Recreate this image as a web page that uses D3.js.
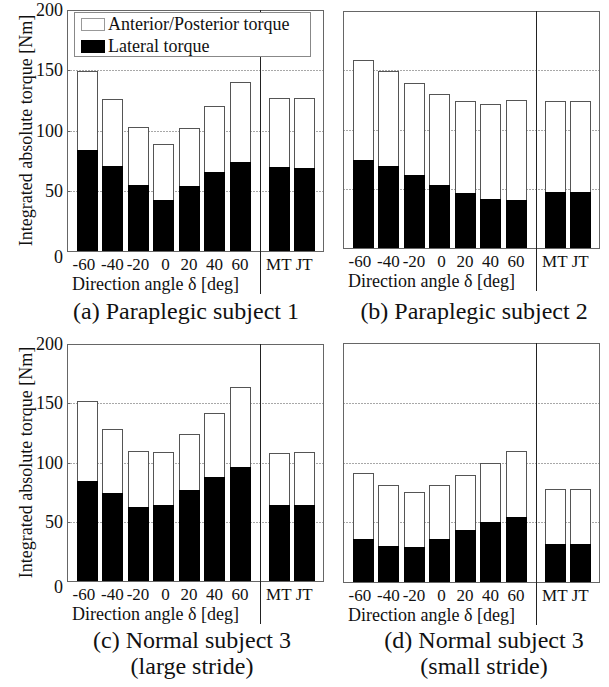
<!DOCTYPE html>
<html>
<head>
<meta charset="utf-8">
<script src="https://cdn.jsdelivr.net/npm/d3@7"></script>
<style>
  html, body { margin: 0; padding: 0; background: #fff; }
  svg { display: block; }
  text { fill: #111; }
</style>
</head>
<body>
<svg id="chart" width="609" height="687" font-family="'Liberation Serif', 'Times New Roman', Times, serif"></svg>
<script>
// ---- data ----
const angles = ["-60", "-40", "-20", "0", "20", "40", "60"];
const methods = ["MT", "JT"];
const yTicks = [0, 50, 100, 150, 200];
const seriesNames = ["Anterior/Posterior torque", "Lateral torque"];

const totalA   = [149, 126, 103, 88.5, 102, 120.5, 140, 127, 127];
const lateralA = [83.5, 70.5, 54.8, 42, 53.7, 65.2, 74, 69.5, 68.5];
const totalB   = [159, 149.4, 139, 130.3, 124.4, 121.6, 124.7, 124.4, 124.4];
const lateralB = [74.4, 69, 62, 53.3, 46, 41, 40.2, 47, 47];
const totalC   = [151.7, 128, 110, 109, 123.7, 141.5, 163.3, 108.2, 108.8];
const lateralC = [84.2, 74, 62.4, 63.8, 76.8, 88, 96.6, 63.8, 63.8];
const totalD   = [91.3, 81, 75.4, 81.2, 89.3, 99.7, 109.8, 77.6, 77.6];
const lateralD = [36.1, 30.5, 29.4, 36.4, 43.4, 49.8, 54.4, 32, 31.7];

const captionA = ["(a) Paraplegic subject 1"];
const captionB = ["(b) Paraplegic subject 2"];
const captionC = ["(c) Normal subject 3", "(large stride)"];
const captionD = ["(d) Normal subject 3", "(small stride)"];

const yLabel = "Integrated absolute torque [Nm]";
const xLabel = "Direction angle \u03B4 [deg]";

// ---- layout ----
const panels = [
  { total: totalA, lateral: lateralA, caption: captionA, left: 67,  right: 323, top: 10,  bottom: 251, yAxis: true,  legend: true,  capX: 186, capY: 319 },
  { total: totalB, lateral: lateralB, caption: captionB, left: 343, right: 599, top: 11,  bottom: 248, yAxis: false, legend: false, capX: 474, capY: 319 },
  { total: totalC, lateral: lateralC, caption: captionC, left: 67,  right: 323, top: 344, bottom: 581, yAxis: true,  legend: false, capX: 192, capY: 648 },
  { total: totalD, lateral: lateralD, caption: captionD, left: 343, right: 599, top: 343, bottom: 582, yAxis: false, legend: false, capX: 484, capY: 648 }
];
const leftWidth = 193;

const svg = d3.select("#chart");

panels.forEach(p => {
  const g = svg.append("g");
  const divX = p.left + leftWidth;
  const y = d3.scaleLinear().domain([0, 200]).range([p.bottom, p.top]);
  const xL = d3.scaleBand().domain(angles).range([p.left, divX]).paddingInner(0.2).paddingOuter(0.38);
  const xR = d3.scaleBand().domain(methods).range([divX, p.right]).paddingInner(0.2).paddingOuter(0.34);
  const xPos = c => angles.includes(c) ? xL(c) : xR(c);
  const bw = xL.bandwidth();

  // gridlines
  g.append("g").selectAll("line").data(yTicks.filter(t => t > 0 && t < 200)).join("line")
    .attr("x1", p.left).attr("x2", p.right)
    .attr("y1", d => Math.round(y(d)) + 0.5).attr("y2", d => Math.round(y(d)) + 0.5)
    .attr("stroke", "#a8a8a8").attr("stroke-width", 1).attr("stroke-dasharray", "2,1");

  const rows = angles.concat(methods).map((c, i) => ({ c, total: p.total[i], lateral: p.lateral[i] }));

  // total (anterior/posterior) bars
  g.append("g").selectAll("rect").data(rows).join("rect")
    .attr("x", d => Math.round(xPos(d.c)) + 0.5)
    .attr("y", d => Math.round(y(d.total)) + 0.5)
    .attr("width", Math.round(bw))
    .attr("height", d => Math.round(y(0)) - Math.round(y(d.total)))
    .attr("fill", "#fff").attr("stroke", "#555").attr("stroke-width", 1);

  // lateral bars
  g.append("g").selectAll("rect").data(rows).join("rect")
    .attr("x", d => Math.round(xPos(d.c)))
    .attr("y", d => Math.round(y(d.lateral)))
    .attr("width", Math.round(bw) + 1)
    .attr("height", d => Math.round(y(0)) - Math.round(y(d.lateral)))
    .attr("fill", "#000");

  // frame
  g.append("rect")
    .attr("x", p.left + 0.5).attr("y", p.top + 0.5)
    .attr("width", p.right - p.left).attr("height", p.bottom - p.top)
    .attr("fill", "none").attr("stroke", "#666").attr("stroke-width", 1);

  // divider
  g.append("line")
    .attr("x1", divX + 0.5).attr("x2", divX + 0.5)
    .attr("y1", p.top).attr("y2", p.bottom + 43)
    .attr("stroke", "#222").attr("stroke-width", 1);

  // x tick labels
  g.append("g").selectAll("text").data(angles.concat(methods)).join("text")
    .attr("x", d => xPos(d) + bw / 2 - (d === "-60" ? 3 : 0) + (d === "0" ? 2 : 0))
    .attr("y", p.bottom + 18.5)
    .attr("text-anchor", "middle")
    .attr("font-size", 17)
    .text(d => d);

  // x axis label
  g.append("text")
    .attr("x", p.left + 5).attr("y", p.bottom + 39)
    .attr("font-size", 18)
    .text(xLabel);

  // y axis
  if (p.yAxis) {
    g.append("g").selectAll("text").data(yTicks).join("text")
      .attr("x", p.left - 4)
      .attr("y", d => y(d) + (d === 0 ? 12 : 6))
      .attr("text-anchor", "end")
      .attr("font-size", 18)
      .text(d => d);
    g.append("g").selectAll("line").data(yTicks).join("line")
      .attr("x1", p.left).attr("x2", p.left + 3)
      .attr("y1", d => Math.round(y(d)) + 0.5).attr("y2", d => Math.round(y(d)) + 0.5)
      .attr("stroke", "#666");
    g.append("text")
      .attr("transform", `translate(${p.left - 35},${(p.top + p.bottom) / 2}) rotate(-90)`)
      .attr("text-anchor", "middle")
      .attr("font-size", 18)
      .text(yLabel);
  }

  // legend
  if (p.legend) {
    const lg = g.append("g");
    lg.append("rect").attr("x", 74.5).attr("y", 12.5).attr("width", 236).attr("height", 44)
      .attr("fill", "#fff").attr("stroke", "#888");
    const items = [{ name: seriesNames[0], fill: "#fff" }, { name: seriesNames[1], fill: "#000" }];
    items.forEach((it, i) => {
      lg.append("rect").attr("x", 81.5).attr("y", 18.5 + i * 22).attr("width", 23).attr("height", 12)
        .attr("fill", it.fill).attr("stroke", i === 0 ? "#999" : "#000");
      lg.append("text").attr("x", 108).attr("y", 30 + i * 22).attr("font-size", 18).text(it.name);
    });
  }

  // caption
  g.append("g").selectAll("text").data(p.caption).join("text")
    .attr("x", p.capX).attr("y", (d, i) => p.capY + i * 26)
    .attr("text-anchor", "middle")
    .attr("font-size", 24)
    .text(d => d);
});
</script>
</body>
</html>
